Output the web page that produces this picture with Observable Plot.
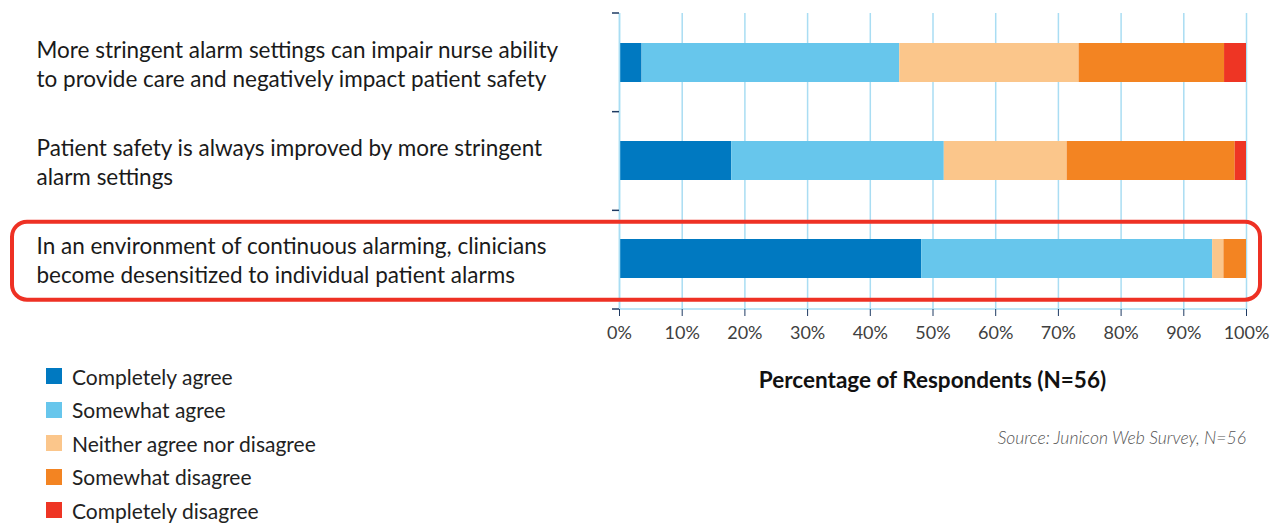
<!DOCTYPE html>
<html><head><meta charset="utf-8">
<script src="https://cdn.jsdelivr.net/npm/d3@7"></script>
<script src="https://cdn.jsdelivr.net/npm/@observablehq/plot@0.6"></script>
<style>
body{margin:0;background:#fff;font-family:Lato,"Open Sans",sans-serif;}
#wrap{position:relative;width:1272px;height:524px;}
#chart{position:absolute;left:0;top:0;}
.leg{position:absolute;left:46px;font-size:21px;color:#222;display:flex;align-items:center;height:24px;}
.leg span.sw{display:inline-block;width:16px;height:16px;margin-right:10px;}
#xtitle{position:absolute;left:619px;width:627px;text-align:center;top:366px;font-weight:bold;font-size:22.5px;color:#111;}
#source{position:absolute;right:26px;top:427px;font-style:italic;font-weight:300;font-size:17.5px;color:#555;}
</style></head>
<body><div id="wrap"><div id="chart"></div><div id="xtitle">Percentage of Respondents (N=56)</div><div id="source">Source: Junicon Web Survey, N=56</div></div>
<script>
const questions = [
  "More stringent alarm settings can impair nurse ability\nto provide care and negatively impact patient safety",
  "Patient safety is always improved by more stringent\nalarm settings",
  "In an environment of continuous alarming, clinicians\nbecome desensitized to individual patient alarms"
];
const responses = ["Completely agree","Somewhat agree","Neither agree nor disagree","Somewhat disagree","Completely disagree"];
const colors = ["#0079c1","#67c6ec","#fbc68b","#f38422","#ee3524"];
const q1 = [3.6, 41.1, 28.6, 23.2, 3.5];
const q2 = [17.9, 33.9, 19.6, 26.8, 1.8];
const q3 = [48.2, 46.4, 1.8, 3.6, 0];
const xTicks = [0,10,20,30,40,50,60,70,80,90,100];

const series = [q1,q2,q3];
const data = [];
questions.forEach((q,i)=>responses.forEach((r,j)=>data.push({question:q, response:r, value:series[i][j]})));

const gridColor = "#a9ddf3";
const tickColor = "#1f3b63";

const annot = (index, scales, values, dim) => {
  const g = d3.create("svg:g");
  const top = dim.marginTop, bottom = dim.height - dim.marginBottom;
  const step = (bottom - top) / questions.length;
  const x0 = dim.marginLeft;
  for (let i = 0; i <= questions.length; i++) {
    const yy = top + i*step;
    g.append("line").attr("x1", x0-7).attr("x2", x0).attr("y1", yy).attr("y2", yy)
      .attr("stroke", tickColor).attr("stroke-width", 1.5);
  }
  g.append("line").attr("x1", x0).attr("x2", dim.width - dim.marginRight).attr("y1", bottom).attr("y2", bottom)
    .attr("stroke", gridColor).attr("stroke-width", 1.5);
  const c = top + 2.5*step;
  g.append("rect").attr("x", 12).attr("width", dim.width - 24)
    .attr("y", c - 38).attr("height", 78).attr("rx", 15)
    .attr("fill", "none").attr("stroke", "#ee3124").attr("stroke-width", 4);
  return g.node();
};

const chart = Plot.plot({
  width: 1272, height: 350,
  marginLeft: 619, marginRight: 26, marginTop: 13, marginBottom: 41,
  style: {fontFamily: "Lato, sans-serif", background: "#fff"},
  x: {domain: [0,100]},
  y: {domain: questions, paddingInner: 0.6, paddingOuter: 0.3},
  color: {domain: responses, range: colors},
  marks: [
    Plot.gridX(xTicks, {stroke: gridColor, strokeOpacity: 1, strokeWidth: 1.5}),
    Plot.barX(data, Plot.stackX({x: "value", y: "question", fill: "response", order: responses})),
    Plot.ruleX([0], {stroke: gridColor, strokeWidth: 1.5}),
    annot,
    Plot.axisX(xTicks, {tickFormat: d => d + "%", tickSize: 7, tickPadding: 10, stroke: tickColor, fontSize: 18, color: "#404040", label: null}),
    Plot.axisY({ticks: [], label: null}),
    Plot.text(questions, {y: d => d, text: d => d, frameAnchor: "left", textAnchor: "start", dx: -583, dy: 0.5, fontSize: 22.5, lineHeight: 1.3, fill: "#1a1a1a"})
  ]
});
document.getElementById("chart").appendChild(chart);

const wrap = document.getElementById("wrap");
responses.forEach((r,i)=>{
  const d = document.createElement("div");
  d.className = "leg";
  d.style.top = (364 + i*33.6) + "px";
  d.innerHTML = `<span class="sw" style="background:${colors[i]}"></span>${r}`;
  wrap.appendChild(d);
});
</script></body></html>
